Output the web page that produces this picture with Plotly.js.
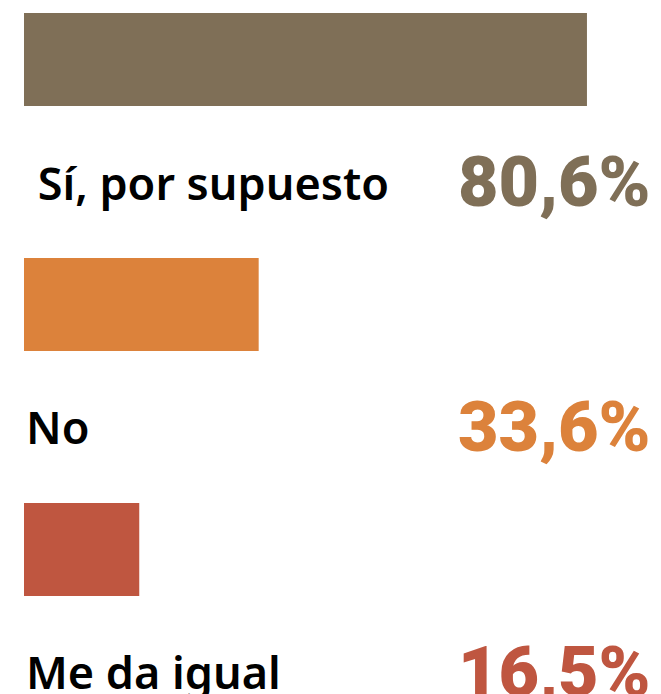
<!DOCTYPE html>
<html><head><meta charset="utf-8">
<script src="https://cdn.plot.ly/plotly-3.0.1.min.js"></script>
<style>html,body{margin:0;padding:0;background:#fff}</style>
</head><body>
<div id="chart" style="width:661px;height:694px"></div>
<script>
const categories = ["\u00A0Sí, por supuesto", "No", "Me da igual"];
const values = [80.6, 33.6, 16.5];
const valueLabels = ["80,6%", "33,6%", "16,5%"];
const colors = ["#7f6f57", "#dc823b", "#bf5640"];

const pos = categories.map((c, i) => i);

const trace = {
  type: "bar",
  orientation: "h",
  x: values,
  y: pos,
  width: 0.38,
  marker: {color: colors},
  hoverinfo: "skip"
};

const annotations = [];
categories.forEach((c, i) => {
  annotations.push({
    xref: "paper", yref: "y", x: 0, y: i + 0.5,
    text: c, showarrow: false, xanchor: "left", yanchor: "middle",
    font: {family: "Noto Sans", size: 45, color: "#000", weight: 600}
  });
  annotations.push({
    xref: "paper", yref: "y", x: 0.988, y: i + 0.5,
    text: valueLabels[i], showarrow: false, xanchor: "right", yanchor: "middle",
    font: {family: "Roboto", size: 70, color: colors[i], weight: 900}
  });
});

const layout = {
  width: 661, height: 694,
  margin: {l: 24, r: 0, t: 0, b: 0},
  paper_bgcolor: "#fff", plot_bgcolor: "#fff",
  showlegend: false,
  xaxis: {range: [0, 91.2], visible: false, fixedrange: true},
  yaxis: {range: [2.590, -0.243], visible: false, fixedrange: true},
  annotations: annotations
};

Plotly.newPlot("chart", [trace], layout, {displayModeBar: false, staticPlot: true});
</script>
</body></html>
